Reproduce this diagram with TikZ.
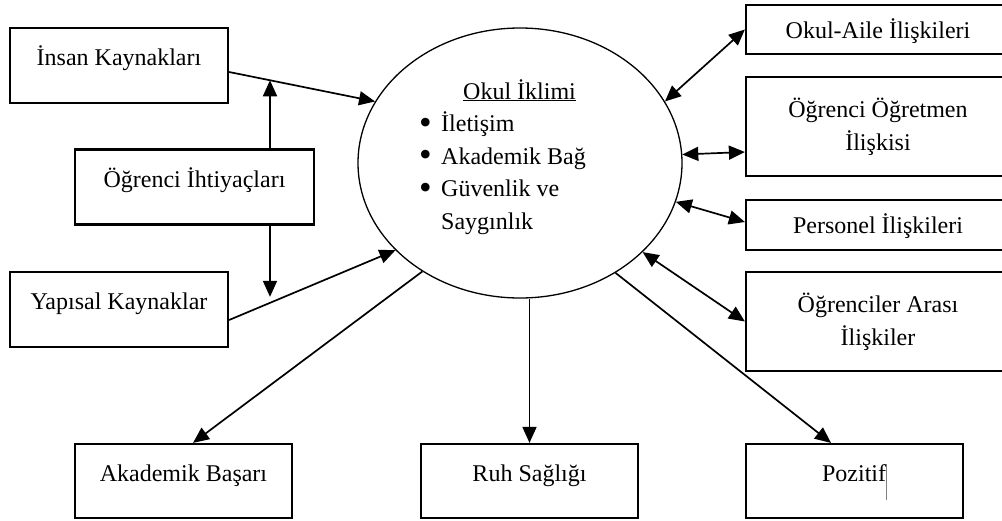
\documentclass[tikz,border=0pt]{standalone}
\usepackage{fontspec}
\setmainfont{Liberation Serif}
\usetikzlibrary{shapes.geometric}
\usetikzlibrary{arrows.meta}
\usetikzlibrary{calc}

\newcommand{\climbullet}{\makebox[22pt][l]{\raisebox{-2.5pt}{\scalebox{1.5}{\textbullet}}}}

\begin{document}
\begin{tikzpicture}[x=1pt, y=-1pt,
  box/.style={draw, line width=2.2pt, rectangle, inner sep=0pt, align=center, font=\fontsize{24}{33}\selectfont},
  tallbox/.style={box, minimum width=218pt, minimum height=75pt, text height=17pt, text depth=17pt},
  lowbox/.style={box, minimum width=264pt, minimum height=49pt, text height=17pt, text depth=0pt},
  twobox/.style={box, minimum width=264pt, minimum height=99pt},
  link/.style={line width=1.7pt, -{Triangle[length=16pt,width=14pt]}},
  twolink/.style={line width=1.7pt, {Triangle[length=16pt,width=14pt]}-{Triangle[length=16pt,width=14pt]}}]

\useasboundingbox (0,0) rectangle (1002,520);

% left side
\node[tallbox] (insan) at (119,65.5) {İnsan Kaynakları};
\node[tallbox, minimum width=239pt] (ihtiyac) at (194.5,187) {Öğrenci İhtiyaçları};
\node[tallbox] (yapisal) at (119,309.5) {Yapısal Kaynaklar};

% school climate
\node[draw, ellipse, line width=1.3pt, minimum width=324pt, minimum height=270pt, inner sep=0pt] (climate) at (520,163) {};
\node[anchor=north west, inner sep=0pt, align=left, font=\fontsize{24}{32.5}\selectfont] (climatetext) at (419,79)
{\hspace*{44pt}\underline{Okul İklimi}\\
\climbullet İletişim\\
\climbullet Akademik Bağ\\
\climbullet Güvenlik ve\\
\hspace*{22pt}Saygınlık};

% right side
\node[lowbox] (aile) at (878,29.5) {Okul-Aile İlişkileri};
\node[twobox] (ogretmen) at (878,126.5) {Öğrenci Öğretmen\\ İlişkisi};
\node[lowbox, minimum height=50pt] (personel) at (878,225) {Personel İlişkileri};
\node[twobox] (arasi) at (878,321.5) {Öğrenciler Arası\\ İlişkiler};

% bottom
\node[tallbox, minimum width=217pt, minimum height=74pt] (basari) at (183.5,481) {Akademik Başarı};
\node[tallbox, minimum width=217pt, minimum height=74pt] (ruh) at (529.5,481) {Ruh Sağlığı};
\node[tallbox, minimum width=217pt, minimum height=74pt] (pozitif) at (854.5,481)
{Pozitif\textcolor{gray}{\rule[-19pt]{0.8pt}{36pt}}};

% inputs
\coordinate (insanout) at ($(insan.east)+(0,6.5)$);
\coordinate (yapisalout) at ($(yapisal.east)+(0,10.5)$);
\coordinate (needtop) at ($(ihtiyac.north)+(75.5,0)$);
\coordinate (needbot) at ($(ihtiyac.south)+(75.5,0)$);
\coordinate (needup) at (intersection of insanout--climate.157 and needtop--needbot);
\coordinate (needcross) at (intersection of yapisalout--climate.215.6 and needtop--needbot);

\draw[link] (insanout) -- (climate.157);
\draw[link] (yapisalout) -- (climate.215.6);
\draw[link] (needtop) -- (needup);
\draw[link] (needbot) -- ($(needcross)+(0,-6)$);

% outputs
\draw[link] (climate.228.6) -- ($(basari.north)+(9.5,0)$);
\draw[link] (climate.south -| ruh.north) -- (ruh.north);
\draw[link] (climate.311.4) -- ($(pozitif.north)+(-23.5,0)$);

% relations
\draw[twolink] (climate.23.7) -- (aile.west);
\draw[twolink] (climate.3.9) -- ($(ogretmen.west)+(0,25.5)$);
\draw[twolink] (climate.346.7) -- ($(personel.west)+(0,-3)$);
\draw[twolink] (climate.324.7) -- (arasi.west);

\end{tikzpicture}
\end{document}
